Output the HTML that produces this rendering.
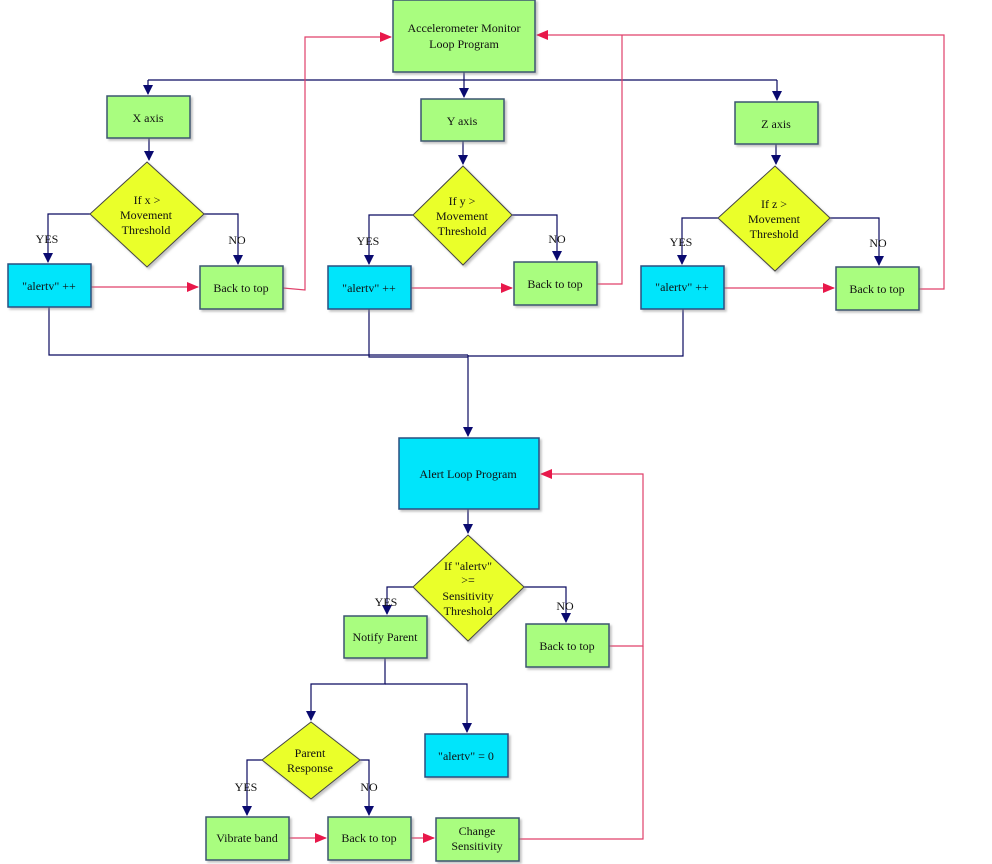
<!DOCTYPE html>
<html><head><meta charset="utf-8"><style>
html,body{margin:0;padding:0;background:#fff;}
svg{display:block;}
text{font-family:"Liberation Serif",serif;font-size:12px;fill:#111;text-anchor:middle;}
.g{fill:#a9fd7f;stroke:#3b5470;stroke-width:1.5;}
.c{fill:#00e5fb;stroke:#2b4f80;stroke-width:1.5;}
.y{fill:#eaff2a;stroke:#444;stroke-width:1;}
.b{fill:none;stroke:#0a0a60;stroke-width:1.2;}
.r{fill:none;stroke:#e0406a;stroke-width:1.2;}
</style></head><body>
<svg width="992" height="864" viewBox="0 0 992 864" xmlns="http://www.w3.org/2000/svg">
<defs>
<marker id="ab" markerWidth="10" markerHeight="10" refX="9" refY="5" orient="auto" markerUnits="userSpaceOnUse"><path d="M0,0 L10,5 L0,10 z" fill="#0a0a70"/></marker>
<marker id="ar" markerWidth="12" markerHeight="10" refX="11" refY="5" orient="auto" markerUnits="userSpaceOnUse"><path d="M0,0 L12,5 L0,10 z" fill="#e8184a"/></marker>
<filter id="sh" x="-10%" y="-10%" width="130%" height="130%"><feDropShadow dx="2" dy="2" stdDeviation="1" flood-color="#888" flood-opacity="0.5"/></filter>
</defs>

<!-- blue connectors top -->
<path class="b" d="M464,72 V97" marker-end="url(#ab)"/>
<path class="b" d="M148,80 H777" />
<path class="b" d="M148,80 V94" marker-end="url(#ab)"/>
<path class="b" d="M777,80 V100" marker-end="url(#ab)"/>
<path class="b" d="M149,138 V160" marker-end="url(#ab)"/>
<path class="b" d="M463,141 V164" marker-end="url(#ab)"/>
<path class="b" d="M776,144 V164" marker-end="url(#ab)"/>
<path class="b" d="M90,214 H48 V262" marker-end="url(#ab)"/>
<path class="b" d="M204,214 H238 V264" marker-end="url(#ab)"/>
<path class="b" d="M413,215 H369 V264" marker-end="url(#ab)"/>
<path class="b" d="M512,215 H557 V260" marker-end="url(#ab)"/>
<path class="b" d="M718,218 H682 V264" marker-end="url(#ab)"/>
<path class="b" d="M830,218 H879 V265" marker-end="url(#ab)"/>
<path class="b" d="M49,307 V355 H468"/>
<path class="b" d="M369,309 V357 H468"/>
<path class="b" d="M683,309 V356 H468"/>
<path class="b" d="M468,355 V436" marker-end="url(#ab)"/>

<!-- red connectors top -->
<path class="r" d="M91,287 H198" marker-end="url(#ar)"/>
<path class="r" d="M411,288 H512" marker-end="url(#ar)"/>
<path class="r" d="M724,288 H834" marker-end="url(#ar)"/>
<path class="r" d="M283,288 L305,290 V37 H391" marker-end="url(#ar)"/>
<path class="r" d="M597,284 H622 V35"/>
<path class="r" d="M919,289 H944 V35 H537" marker-end="url(#ar)"/>

<!-- lower blue -->
<path class="b" d="M468,509 V533" marker-end="url(#ab)"/>
<path class="b" d="M413,587 H387 V614" marker-end="url(#ab)"/>
<path class="b" d="M524,587 H566 V622" marker-end="url(#ab)"/>
<path class="b" d="M385,658 V684 H311 V720" marker-end="url(#ab)"/>
<path class="b" d="M385,684 H467 V732" marker-end="url(#ab)"/>
<path class="b" d="M262,760 H247 V815" marker-end="url(#ab)"/>
<path class="b" d="M360,760 H369 V815" marker-end="url(#ab)"/>

<!-- lower red -->
<path class="r" d="M609,646 H643 V474 H541" marker-end="url(#ar)"/>
<path class="r" d="M519,839 H643 V646"/>
<path class="r" d="M289,838 H326" marker-end="url(#ar)"/>
<path class="r" d="M411,838 H434" marker-end="url(#ar)"/>

<!-- nodes -->
<g filter="url(#sh)">
<rect class="g" x="393" y="0" width="142" height="72"/>
<rect class="g" x="107" y="96" width="83" height="42"/>
<rect class="g" x="421" y="99" width="83" height="42"/>
<rect class="g" x="735" y="102" width="83" height="42"/>
<polygon class="y" points="147,162 204,214 147,267 90,214"/>
<polygon class="y" points="463,166 512,215 463,265 413,215"/>
<polygon class="y" points="775,166 830,218 775,271 718,218"/>
<rect class="c" x="8" y="264" width="83" height="43"/>
<rect class="g" x="200" y="266" width="83" height="43"/>
<rect class="c" x="328" y="266" width="83" height="43"/>
<rect class="g" x="514" y="262" width="83" height="43"/>
<rect class="c" x="641" y="266" width="83" height="43"/>
<rect class="g" x="836" y="267" width="83" height="43"/>
<rect class="c" x="399" y="438" width="140" height="71"/>
<polygon class="y" points="468,535 524,587 468,641 413,587"/>
<rect class="g" x="344" y="616" width="83" height="42"/>
<rect class="g" x="526" y="624" width="83" height="43"/>
<polygon class="y" points="311,722 360,760 311,799 262,760"/>
<rect class="c" x="425" y="734" width="83" height="43"/>
<rect class="g" x="206" y="817" width="83" height="43"/>
<rect class="g" x="328" y="817" width="83" height="43"/>
<rect class="g" x="436" y="818" width="83" height="43"/>
</g>

<!-- text -->
<text x="464" y="32">Accelerometer Monitor</text>
<text x="464" y="48">Loop Program</text>
<text x="148" y="122">X axis</text>
<text x="462" y="125">Y axis</text>
<text x="776" y="128">Z axis</text>
<text x="147" y="204">If x &gt;</text>
<text x="146" y="219">Movement</text>
<text x="146" y="234">Threshold</text>
<text x="462" y="205">If y &gt;</text>
<text x="462" y="220">Movement</text>
<text x="462" y="235">Threshold</text>
<text x="774" y="208">If z &gt;</text>
<text x="774" y="223">Movement</text>
<text x="774" y="238">Threshold</text>
<text x="47" y="243">YES</text>
<text x="237" y="244">NO</text>
<text x="368" y="245">YES</text>
<text x="557" y="243">NO</text>
<text x="681" y="246">YES</text>
<text x="878" y="247">NO</text>
<text x="49" y="290">"alertv" ++</text>
<text x="241" y="292">Back to top</text>
<text x="369" y="292">"alertv" ++</text>
<text x="555" y="288">Back to top</text>
<text x="682" y="291">"alertv" ++</text>
<text x="877" y="293">Back to top</text>
<text x="468" y="478">Alert Loop Program</text>
<text x="468" y="570">If "alertv"</text>
<text x="468" y="584">&gt;=</text>
<text x="468" y="600">Sensitivity</text>
<text x="468" y="615">Threshold</text>
<text x="386" y="606">YES</text>
<text x="565" y="610">NO</text>
<text x="385" y="641">Notify Parent</text>
<text x="567" y="650">Back to top</text>
<text x="310" y="757">Parent</text>
<text x="310" y="772">Response</text>
<text x="246" y="791">YES</text>
<text x="369" y="791">NO</text>
<text x="466" y="760">"alertv" = 0</text>
<text x="247" y="842">Vibrate band</text>
<text x="369" y="842">Back to top</text>
<text x="477" y="835">Change</text>
<text x="477" y="850">Sensitivity</text>
</svg>
</body></html>
